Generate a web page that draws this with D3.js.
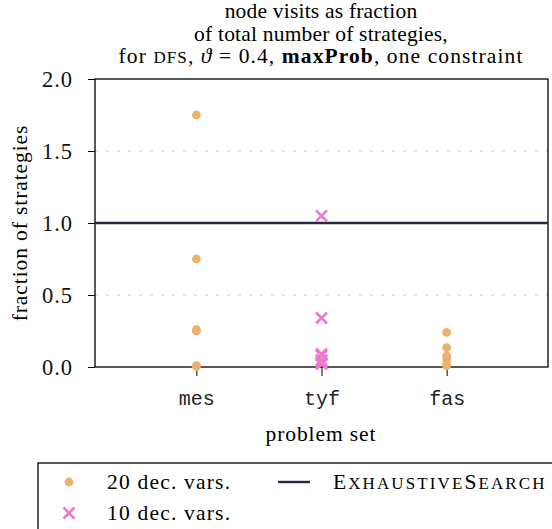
<!DOCTYPE html>
<html><head><meta charset="utf-8">
<script src="https://cdn.jsdelivr.net/npm/d3@7"></script>
<style>body{margin:0;background:#fff}svg{display:block}</style>
</head><body><svg id="c" width="552" height="529"></svg>
<script>
const categories = ["mes", "tyf", "fas"];
const yTicks = [0.0, 0.5, 1.0, 1.5, 2.0];
// 20 decision variables (orange dots)
const vars20 = [
  {set:"mes", v:1.75},{set:"mes", v:0.75},{set:"mes", v:0.26},{set:"mes", v:0.25},{set:"mes", v:0.01},{set:"mes", v:0.005},
  {set:"fas", v:0.24},{set:"fas", v:0.135},{set:"fas", v:0.075},{set:"fas", v:0.05},{set:"fas", v:0.02},{set:"fas", v:0.01}
];
// 10 decision variables (pink crosses)
const vars10 = [
  {set:"tyf", v:1.05},{set:"tyf", v:0.34},{set:"tyf", v:0.09},{set:"tyf", v:0.08},{set:"tyf", v:0.05},
  {set:"tyf", v:0.04},{set:"tyf", v:0.03},{set:"tyf", v:0.02}
];
const exhaustive = 1.0;

const svg = d3.select("#c");
const L=95, R=548, T=79, B=367;
const serif = "Liberation Serif";
const x = d3.scalePoint().domain(categories).range([L,R]).padding(0.81);
const y = d3.scaleLinear().domain([0,2]).range([B,T]);
const orange="#ECB06F", pink="#EA7ACF", navy="#262845";

// grid
svg.append("g").selectAll("line").data(yTicks.filter(d=>d>0&&d<2)).join("line")
  .attr("x1",L).attr("x2",R).attr("y1",d=>y(d)).attr("y2",d=>y(d))
  .attr("stroke","#c8c8c8").attr("stroke-width",1).attr("stroke-dasharray","3,8");

// axes
const ya = svg.append("g").attr("transform",`translate(${L},0)`)
  .call(d3.axisLeft(y).tickValues(yTicks).tickFormat(d3.format(".1f")).tickSize(7).tickPadding(15));
const xa = svg.append("g").attr("transform",`translate(0,${B})`)
  .call(d3.axisBottom(x).tickSize(9).tickPadding(15));
[ya,xa].forEach(g=>{g.select(".domain").remove();g.selectAll("line").attr("stroke","#000");});
ya.selectAll("text").style("font-family",serif).style("font-size","22.5px").style("letter-spacing","1px").attr("fill","#111");
xa.selectAll("text").style("font-family","Liberation Mono").style("font-size","20px").attr("fill","#222");

// frame
svg.append("rect").attr("x",L).attr("y",T).attr("width",R-L).attr("height",B-T)
  .attr("fill","none").attr("stroke","#000").attr("stroke-width",1.3);

// reference line
svg.append("line").attr("x1",L).attr("x2",R).attr("y1",y(exhaustive)).attr("y2",y(exhaustive))
  .attr("stroke",navy).attr("stroke-width",2.4);

// points
svg.append("g").selectAll("circle").data(vars20).join("circle")
  .attr("cx",d=>x(d.set)).attr("cy",d=>y(d.v)).attr("r",4.4).attr("fill",orange);
const cross = (g,cx,cy,s)=>g.append("path").attr("d",`M${cx-s},${cy-s}L${cx+s},${cy+s}M${cx-s},${cy+s}L${cx+s},${cy-s}`)
  .attr("stroke",pink).attr("stroke-width",2.6).attr("fill","none");
const cg = svg.append("g");
vars10.forEach(d=>cross(cg,x(d.set),y(d.v),5.5));

const txt = (sel,size)=>sel.style("font-family",serif).style("font-size",size+"px").attr("fill","#000");

// title
const tt = txt(svg.append("text"),21.5).attr("text-anchor","middle").style("letter-spacing","0.2px");
tt.append("tspan").attr("x",321).attr("y",18).text("node visits as fraction");
tt.append("tspan").attr("x",321).attr("y",41).text("of total number of strategies,");
const l3 = tt.append("tspan").attr("x",321).attr("y",63).style("letter-spacing","1.1px");
l3.append("tspan").text("for ");
l3.append("tspan").style("font-size","17px").text("DFS");
l3.append("tspan").text(", ");
l3.append("tspan").style("font-style","italic").text("ϑ");
l3.append("tspan").text(" = 0.4, ");
l3.append("tspan").style("font-weight","bold").text("maxProb");
l3.append("tspan").text(", one constraint");

// axis labels
txt(svg.append("text"),21.5).attr("text-anchor","middle").style("letter-spacing","0.9px")
  .attr("transform",`translate(27,${(T+B)/2}) rotate(-90)`).text("fraction of strategies");
txt(svg.append("text"),21.5).attr("text-anchor","middle").style("letter-spacing","0.9px")
  .attr("x",321).attr("y",441).text("problem set");

// legend
const lg = svg.append("g");
lg.append("rect").attr("x",38).attr("y",463).attr("width",530).attr("height",80).attr("fill","#fff").attr("stroke","#000").attr("stroke-width",1.3);
lg.append("circle").attr("cx",69).attr("cy",482).attr("r",4.4).attr("fill",orange);
cross(lg,69,513,5.5);
txt(lg.append("text"),21.5).style("letter-spacing","1.2px").attr("x",107).attr("y",489).text("20 dec. vars.");
txt(lg.append("text"),21.5).style("letter-spacing","1.2px").attr("x",107).attr("y",520).text("10 dec. vars.");
lg.append("line").attr("x1",278).attr("x2",310).attr("y1",482).attr("y2",482).attr("stroke",navy).attr("stroke-width",2.4);
const ex = txt(lg.append("text"),21.5).style("letter-spacing","2.1px").attr("x",333).attr("y",489);
ex.append("tspan").text("E");
ex.append("tspan").style("font-size","17px").text("XHAUSTIVE");
ex.append("tspan").text("S");
ex.append("tspan").style("font-size","17px").text("EARCH");
</script></body></html>
